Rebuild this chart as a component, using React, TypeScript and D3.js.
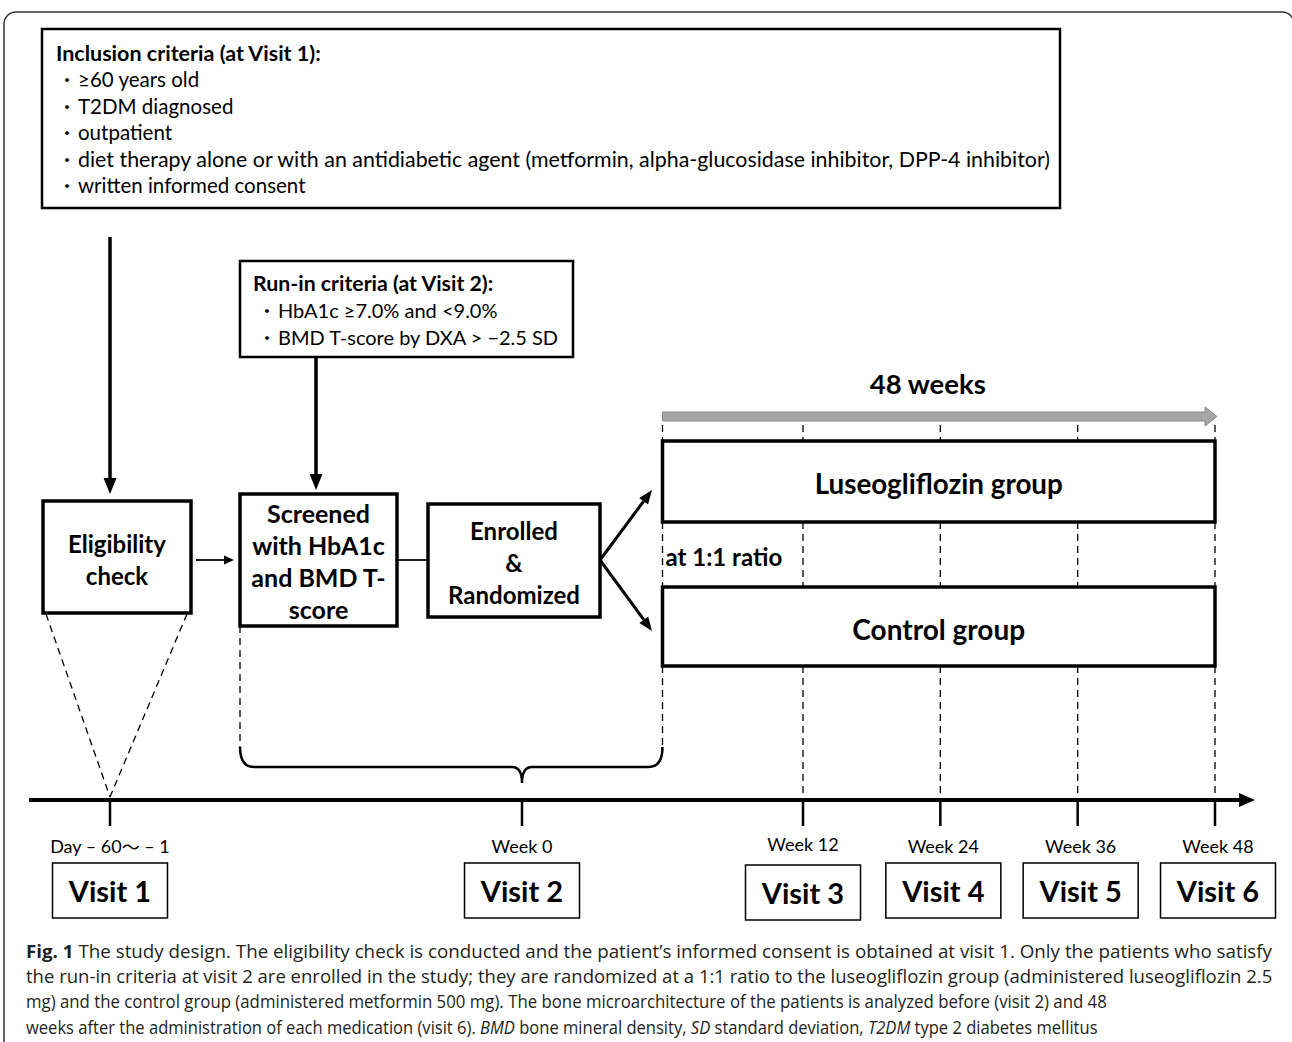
import { useLayoutEffect, useRef, useState } from "react";
import * as d3 from "d3";

// ---- data ----
const inclusionTitle = "Inclusion criteria (at Visit 1):";
const inclusionItems = [
  "≥60 years old",
  "T2DM diagnosed",
  "outpatient",
  "diet therapy alone or with an antidiabetic agent (metformin, alpha-glucosidase inhibitor, DPP-4 inhibitor)",
  "written informed consent",
];
const runInTitle = "Run-in criteria (at Visit 2):";
const runInItems = ["HbA1c ≥7.0% and <9.0%", "BMD T-score by DXA > −2.5 SD"];

const timeLabels = [["Day – 60", "～", " – 1"], ["Week 0"], ["Week 12"], ["Week 24"], ["Week 36"], ["Week 48"]];
const timeWeeks = [-8.5, 0, 12, 24, 36, 48];
const visitLabels = ["Visit 1", "Visit 2", "Visit 3", "Visit 4", "Visit 5", "Visit 6"];
const followWeeks = [12, 24, 36, 48];
const treatStartWeek = 6;

const eligibilityText = ["Eligibility", "check"];
const screenedText = ["Screened", "with HbA1c", "and BMD T-", "score"];
const enrolledText = ["Enrolled", "&", "Randomized"];
const groupLabels = ["Luseogliflozin group", "Control group"];
const periodLabel = "48 weeks";
const ratioLabel = "at 1:1 ratio";

type Seg = [string, "b" | "i" | "n"];
const captionLines: Seg[][] = [
  [["Fig. 1", "b"], [" The study design. The eligibility check is conducted and the patient’s informed consent is obtained at visit 1. Only the patients who satisfy", "n"]],
  [["the run-in criteria at visit 2 are enrolled in the study; they are randomized at a 1:1 ratio to the luseogliflozin group (administered luseogliflozin 2.5", "n"]],
  [["mg) and the control group (administered metformin 500 mg). The bone microarchitecture of the patients is analyzed before (visit 2) and 48", "n"]],
  [
    ["weeks after the administration of each medication (visit 6). ", "n"],
    ["BMD", "i"],
    [" bone mineral density, ", "n"],
    ["SD", "i"],
    [" standard deviation, ", "n"],
    ["T2DM", "i"],
    [" type 2 diabetes mellitus", "n"],
  ],
];
const captionWidths = [1247, 1247, 1082, 1072];

// ---- layout ----
const W = 1292;
const H = 1042;
const FONT = "Lato, 'Noto Sans', sans-serif";
const CJK = "'Noto Sans CJK JP', sans-serif";
const CAP_FONT = "'Open Sans', 'Noto Sans', sans-serif";

const x = d3.scaleLinear().domain([-8.5, 0, 12, 48]).range([110, 522, 803, 1215]);
const axisY = 800;

function Arrow({ x1, y1, x2, y2, sw = 3, len = 14, hw = 6 }: any) {
  const a = Math.atan2(y2 - y1, x2 - x1);
  const bx = x2 - len * Math.cos(a);
  const by = y2 - len * Math.sin(a);
  const px = -Math.sin(a) * hw;
  const py = Math.cos(a) * hw;
  return (
    <g>
      <line x1={x1} y1={y1} x2={bx} y2={by} stroke="#000" strokeWidth={sw} />
      <polygon points={`${x2},${y2} ${bx + px},${by + py} ${bx - px},${by - py}`} fill="#000" />
    </g>
  );
}

function Box({ bx, by, bw, bh, lines, cy0, dy, size = 24, sw = 3.5 }: any) {
  return (
    <g>
      <rect x={bx} y={by} width={bw} height={bh} fill="#fff" stroke="#000" strokeWidth={sw} />
      {lines.map((t: string, i: number) => (
        <text key={i} x={bx + bw / 2} y={cy0 + i * dy} textAnchor="middle" dominantBaseline="central"
          fontFamily={FONT} fontWeight={700} fontSize={size} fill="#000">{t}</text>
      ))}
    </g>
  );
}

function Caption() {
  const refs = useRef<(SVGTextElement | null)[]>([]);
  const [scales, setScales] = useState<number[]>(captionLines.map(() => 1));
  useLayoutEffect(() => {
    const s = refs.current.map((el, i) => {
      const w = el ? el.getComputedTextLength() : 0;
      return w > 0 ? captionWidths[i] / w : 1;
    });
    setScales(s);
  }, []);
  return (
    <g>
      {captionLines.map((segs, i) => (
        <g key={i} transform={`translate(26,${950 + i * 25.5}) scale(${scales[i]},1)`}>
          <text ref={(el) => { refs.current[i] = el; }} x={0} y={0} dominantBaseline="central"
            fontFamily={CAP_FONT} fontSize={18.5} fill="#231f20">
            {segs.map(([t, s], j) => (
              <tspan key={j} fontWeight={s === "b" ? 700 : 400} fontStyle={s === "i" ? "italic" : "normal"}>{t}</tspan>
            ))}
          </text>
        </g>
      ))}
    </g>
  );
}

export default function App() {
  const x0 = x(treatStartWeek);
  const x48 = x(48);
  const dash = { stroke: "#000", strokeWidth: 1.3, strokeDasharray: "7 5", fill: "none" };

  const brace = d3.path();
  brace.moveTo(240, 747);
  brace.quadraticCurveTo(240, 767, 254, 767);
  brace.lineTo(x(0) - 10, 767);
  brace.quadraticCurveTo(x(0), 767, x(0), 783);
  brace.quadraticCurveTo(x(0), 767, x(0) + 10, 767);
  brace.lineTo(x0 - 14, 767);
  brace.quadraticCurveTo(x0, 767, x0, 747);

  const dashSegs: [number, number, number][] = [];
  [treatStartWeek, ...followWeeks].forEach((wk) => {
    const xx = x(wk);
    dashSegs.push([xx, 425, 441], [xx, 522, 587], [xx, 666, wk === treatStartWeek ? 747 : axisY]);
  });
  dashSegs.push([240, 626, 747]);

  const visitBox = { w: 115, h: 55, y: 863 };

  return (
    <svg width={W} height={H} viewBox={`0 0 ${W} ${H}`}
      style={{ position: "absolute", left: 0, top: 0, background: "#fff" }}>
      <rect x={0} y={0} width={W} height={H} fill="#fff" />
      {/* outer frame */}
      <rect x={4} y={12} width={1290} height={1045} rx={12} fill="none" stroke="#333" strokeWidth={1.5} />

      {/* inclusion criteria */}
      <rect x={42} y={29} width={1018} height={179} fill="#fff" stroke="#000" strokeWidth={2.5} />
      <text x={56} y={53} dominantBaseline="central" fontFamily={FONT} fontWeight={700} fontSize={21.5}>{inclusionTitle}</text>
      {inclusionItems.map((t, i) => (
        <g key={i}>
          <text x={58} y={79 + i * 26.6} dominantBaseline="central" fontFamily={CJK} fontSize={18}>・</text>
          <text x={78} y={79 + i * 26.6} dominantBaseline="central" fontFamily={FONT} fontSize={20.5}
            textLength={i === 3 ? 972 : undefined} lengthAdjust="spacingAndGlyphs">{t}</text>
        </g>
      ))}

      {/* run-in criteria */}
      <rect x={240} y={261} width={333} height={96} fill="#fff" stroke="#000" strokeWidth={2.5} />
      <text x={253} y={283} dominantBaseline="central" fontFamily={FONT} fontWeight={700} fontSize={21.3}>{runInTitle}</text>
      {runInItems.map((t, i) => (
        <g key={i}>
          <text x={258} y={310 + i * 27} dominantBaseline="central" fontFamily={CJK} fontSize={18}>・</text>
          <text x={278} y={310 + i * 27} dominantBaseline="central" fontFamily={FONT} fontSize={20}>{t}</text>
        </g>
      ))}

      {/* flow arrows */}
      <Arrow x1={110} y1={237} x2={110} y2={494} sw={3.5} len={16} hw={6.5} />
      <Arrow x1={316} y1={357} x2={316} y2={490} sw={3.5} len={16} hw={6.5} />
      <Arrow x1={196} y1={560} x2={234} y2={560} sw={1.8} len={10} hw={4.5} />
      <line x1={397} y1={560} x2={428} y2={560} stroke="#000" strokeWidth={1.8} />
      <Arrow x1={600} y1={560} x2={652} y2={490} sw={3} len={14} hw={5.5} />
      <Arrow x1={600} y1={560} x2={652} y2={631} sw={3} len={14} hw={5.5} />

      {/* dashed guides */}
      {dashSegs.map(([xx, a, b], i) => (
        <line key={i} x1={xx} y1={a} x2={xx} y2={b} {...dash} />
      ))}
      <line x1={46} y1={614} x2={x(-8.5)} y2={797} {...dash} />
      <line x1={187} y1={614} x2={x(-8.5)} y2={797} {...dash} />

      {/* boxes */}
      <Box bx={43} by={501} bw={148} bh={112} lines={eligibilityText} cy0={543} dy={32} />
      <Box bx={240} by={494} bw={157} bh={132} lines={screenedText} cy0={513} dy={32} size={25} />
      <Box bx={428} by={504} bw={172} bh={113} lines={enrolledText} cy0={530} dy={32} />
      <Box bx={x0} by={441} bw={x48 - x0} bh={81} lines={[groupLabels[0]]} cy0={483} dy={0} size={27.8} />
      <Box bx={x0} by={587} bw={x48 - x0} bh={79} lines={[groupLabels[1]]} cy0={629} dy={0} size={28} />
      <text x={x0 + 3} y={556} dominantBaseline="central" fontFamily={FONT} fontWeight={700} fontSize={24}>{ratioLabel}</text>

      {/* 48 weeks arrow */}
      <text x={(x0 + x48) / 2 - 11} y={383} textAnchor="middle" dominantBaseline="central" fontFamily={FONT} fontWeight={700} fontSize={27.5}>{periodLabel}</text>
      <polygon
        points={`${x0},412 ${x48 - 10},412 ${x48 - 10},407 ${x48 + 2},416.5 ${x48 - 10},426 ${x48 - 10},421 ${x0},421`}
        fill="#a6a6a6" stroke="#8a8a8a" strokeWidth={1} />

      {/* brace */}
      <path d={brace.toString()} fill="none" stroke="#000" strokeWidth={2.5} />

      {/* timeline */}
      <line x1={29} y1={axisY} x2={1240} y2={axisY} stroke="#000" strokeWidth={4} />
      <polygon points={`1255,${axisY} 1239,${axisY - 7} 1239,${axisY + 7}`} fill="#000" />
      {timeWeeks.map((wk, i) => {
        const cx = x(wk) + (i > 2 ? 3 : 0);
        const dyv = i === 2 ? 2 : 0;
        return (
          <g key={i}>
            <line x1={x(wk)} y1={axisY} x2={x(wk)} y2={826} stroke="#000" strokeWidth={2.5} />
            <text x={cx} y={846 - dyv} textAnchor="middle" dominantBaseline="central" fontFamily={FONT} fontSize={18}>
              {timeLabels[i].map((t, j) => (
                <tspan key={j} fontFamily={t === "～" ? CJK : FONT}>{t}</tspan>
              ))}
            </text>
            <rect x={cx - visitBox.w / 2} y={visitBox.y + dyv} width={visitBox.w} height={visitBox.h}
              fill="#fff" stroke="#000" strokeWidth={1.5} />
            <text x={cx} y={visitBox.y + visitBox.h / 2 + dyv} textAnchor="middle" dominantBaseline="central"
              fontFamily={FONT} fontWeight={700} fontSize={29}>{visitLabels[i]}</text>
          </g>
        );
      })}

      {/* caption */}
      <Caption />
    </svg>
  );
}
